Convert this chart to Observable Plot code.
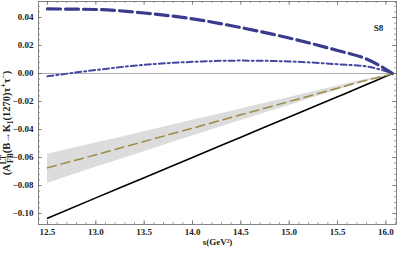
<!DOCTYPE html>
<html>
<head>
<meta charset="utf-8">
<script src="https://cdn.jsdelivr.net/npm/d3@7"></script>
<script src="https://cdn.jsdelivr.net/npm/@observablehq/plot@0.6"></script>
<style>
  html, body { margin: 0; padding: 0; background: #fff; }
  #chart svg { display: block; }
</style>
</head>
<body>
<div id="chart"></div>
<script>
// s values (GeV^2)
const sValues = [12.5, 13.0, 13.5, 14.0, 14.5, 15.0, 15.5, 15.8, 16.0, 16.07];
// thick dashed blue
const blueDashed = [0.0461, 0.0457, 0.0432, 0.0390, 0.0328, 0.0253, 0.0164, 0.0103, 0.0030, 0.0];
// dash-dot blue
const blueDashDot = [-0.0020, 0.0025, 0.0062, 0.0083, 0.0092, 0.0086, 0.0066, 0.0050, 0.0016, 0.0];
// olive dashed (central) with grey band
const oliveCenter = [-0.0673, -0.0580, -0.0485, -0.0390, -0.0295, -0.0200, -0.0105, -0.0048, -0.0015, 0.0];
const bandUpper = [-0.0576, -0.0496, -0.0415, -0.0334, -0.0253, -0.0172, -0.0090, -0.0041, -0.0013, 0.0];
const bandLower = [-0.0785, -0.0670, -0.0558, -0.0446, -0.0336, -0.0228, -0.0120, -0.0055, -0.0017, 0.0];
// black solid
const blackSolid = [-0.1033, -0.0888, -0.0744, -0.0599, -0.0455, -0.0310, -0.0166, -0.0079, -0.0020, 0.0];

const xMajor = [12.5, 13.0, 13.5, 14.0, 14.5, 15.0, 15.5, 16.0];
const yMajor = [-0.10, -0.08, -0.06, -0.04, -0.02, 0.00, 0.02, 0.04];
const panelLabel = "S8";
const xLabel = "s(GeV\u00B2)";

const xMinor = d3.range(125, 162).map(v => v / 10);
const yMinor = d3.range(-26, 13).map(v => v * 0.004);

const rows = sValues.map((s, i) => ({
  s, a: blueDashed[i], b: blueDashDot[i], c: oliveCenter[i],
  hi: bandUpper[i], lo: bandLower[i], k: blackSolid[i]
}));

const W = 400, Hh = 253;
const mL = 38, mR = 4, mT = 1, mB = 29;
const fw = W - mL - mR, fh = Hh - mT - mB;
const tickCol = "#666";

const fmtY = d => d === 0 ? "0.00" : (d < 0 ? "\u2212" : "") + Math.abs(d).toFixed(2);

const plot = Plot.plot({
  width: W, height: Hh,
  marginLeft: mL, marginRight: mR, marginTop: mT, marginBottom: mB,
  style: {fontFamily: "'Liberation Serif', serif", fontSize: "9px", fontWeight: "bold", color: "#222", background: "#fff"},
  x: {domain: [12.407, 16.11], axis: null},
  y: {domain: [-0.1078, 0.0514], axis: null},
  marks: [
    Plot.areaY(rows, {x: "s", y1: "lo", y2: "hi", fill: "#dcdcdc", curve: "monotone-x"}),
    Plot.ruleY([0], {stroke: "#999", strokeWidth: 0.8}),
    Plot.line(rows, {x: "s", y: "k", stroke: "#000", strokeWidth: 1.6, curve: "monotone-x"}),
    Plot.line(rows, {x: "s", y: "c", stroke: "#9a8c45", strokeWidth: 1.5, strokeDasharray: "9,5", curve: "monotone-x"}),
    Plot.line(rows, {x: "s", y: "b", stroke: "#4646a0", strokeWidth: 2, strokeDasharray: "6,3,2,3", curve: "monotone-x"}),
    Plot.line(rows, {x: "s", y: "a", stroke: "#3a3a8e", strokeWidth: 3.2, strokeDasharray: "13,5", curve: "monotone-x"}),
    // frame ticks (inward)
    Plot.ruleX(xMinor, {stroke: tickCol, strokeWidth: 0.6, insetTop: fh - 2}),
    Plot.ruleX(xMinor, {stroke: tickCol, strokeWidth: 0.6, insetBottom: fh - 2}),
    Plot.ruleX(xMajor, {stroke: tickCol, strokeWidth: 0.7, insetTop: fh - 4}),
    Plot.ruleX(xMajor, {stroke: tickCol, strokeWidth: 0.7, insetBottom: fh - 4}),
    Plot.ruleY(yMinor, {stroke: tickCol, strokeWidth: 0.6, insetRight: fw - 2}),
    Plot.ruleY(yMinor, {stroke: tickCol, strokeWidth: 0.6, insetLeft: fw - 2}),
    Plot.ruleY(yMajor, {stroke: tickCol, strokeWidth: 0.7, insetRight: fw - 4}),
    Plot.ruleY(yMajor, {stroke: tickCol, strokeWidth: 0.7, insetLeft: fw - 4}),
    Plot.frame({stroke: "#666", strokeWidth: 0.8}),
    Plot.axisX(xMajor, {anchor: "bottom", tickSize: 0, tickPadding: 4, tickFormat: d => d.toFixed(1), label: null, fill: "#222"}),
    Plot.axisY(yMajor, {anchor: "left", tickSize: 0, tickPadding: 5, tickFormat: fmtY, label: null, fill: "#222"}),
    Plot.text([xLabel], {frameAnchor: "bottom", dy: 20, fill: "#222"}),
    Plot.text([panelLabel], {frameAnchor: "top-right", dx: -18, dy: 23, textAnchor: "middle", fill: "#222"})
  ]
});

document.getElementById("chart").appendChild(plot);

// rotated y-axis label with sub/superscripts
const svg = d3.select(plot);
const t = svg.append("text")
  .attr("transform", "translate(10,123) rotate(-90)")
  .attr("text-anchor", "middle")
  .attr("font-family", "'Liberation Serif', serif")
  .attr("font-size", 10.5)
  .attr("font-weight", "bold")
  .attr("fill", "#222");
t.append("tspan").text("(A");
t.append("tspan").attr("font-size", 7.5).attr("dy", -4).text("LT");
t.append("tspan").attr("font-size", 7.5).attr("dx", -8).attr("dy", 7).text("FB");
t.append("tspan").attr("dy", -3).text("(B\u2192K");
t.append("tspan").attr("font-size", 7.5).attr("dy", 3).text("1");
t.append("tspan").attr("dy", -3).text("(1270)\u03C4");
t.append("tspan").attr("font-size", 7.5).attr("dy", -4).text("+");
t.append("tspan").attr("dy", 4).text("\u03C4");
t.append("tspan").attr("font-size", 7.5).attr("dy", -4).text("\u2212");
t.append("tspan").attr("dy", 4).text(")");
</script>
</body>
</html>
